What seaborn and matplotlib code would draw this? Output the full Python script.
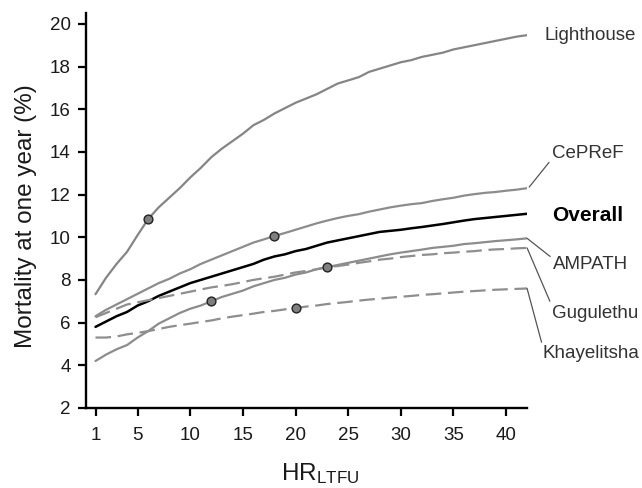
import numpy as np
import pandas as pd
import matplotlib
matplotlib.use("Agg")
import matplotlib.pyplot as plt
import seaborn as sns

# HR_LTFU values 1..42
hr = list(range(1, 43))

lighthouse = [7.33, 8.1, 8.75, 9.32, 10.1, 10.85, 11.4, 11.85, 12.3, 12.8, 13.25, 13.75,
              14.15, 14.5, 14.85, 15.25, 15.5, 15.8, 16.05, 16.3, 16.5, 16.7, 16.95, 17.2,
              17.35, 17.5, 17.75, 17.9, 18.05, 18.2, 18.3, 18.45, 18.55, 18.65, 18.8, 18.9,
              19.0, 19.1, 19.2, 19.3, 19.4, 19.47]
cepref = [6.3, 6.6, 6.85, 7.1, 7.35, 7.6, 7.85, 8.05, 8.3, 8.5, 8.75, 8.95,
          9.15, 9.35, 9.55, 9.75, 9.9, 10.06, 10.2, 10.35, 10.5, 10.65, 10.78, 10.9,
          11.0, 11.08, 11.2, 11.3, 11.4, 11.48, 11.55, 11.6, 11.7, 11.78, 11.85, 11.95,
          12.02, 12.08, 12.12, 12.18, 12.23, 12.3]
overall = [5.8, 6.05, 6.3, 6.5, 6.8, 7.0, 7.25, 7.45, 7.65, 7.85, 8.0, 8.15,
           8.3, 8.45, 8.6, 8.75, 8.95, 9.1, 9.2, 9.35, 9.45, 9.6, 9.75, 9.85,
           9.95, 10.05, 10.15, 10.25, 10.3, 10.35, 10.42, 10.48, 10.55, 10.62, 10.7, 10.78,
           10.85, 10.9, 10.95, 11.0, 11.05, 11.1]
ampath = [4.2, 4.5, 4.75, 4.95, 5.3, 5.6, 5.95, 6.2, 6.45, 6.65, 6.8, 7.0,
          7.2, 7.35, 7.5, 7.7, 7.85, 8.0, 8.1, 8.25, 8.35, 8.5, 8.6, 8.7,
          8.8, 8.9, 9.0, 9.1, 9.2, 9.28, 9.35, 9.42, 9.5, 9.55, 9.6, 9.68,
          9.72, 9.77, 9.82, 9.86, 9.9, 9.95]
gugulethu = [6.25, 6.45, 6.65, 6.85, 6.95, 7.05, 7.15, 7.25, 7.35, 7.45, 7.55, 7.65,
             7.72, 7.8, 7.9, 8.0, 8.08, 8.15, 8.25, 8.35, 8.42, 8.5, 8.6, 8.65,
             8.72, 8.8, 8.87, 8.95, 9.0, 9.07, 9.12, 9.17, 9.2, 9.25, 9.28, 9.32,
             9.35, 9.4, 9.43, 9.45, 9.48, 9.5]
khayelitsha = [5.3, 5.3, 5.35, 5.45, 5.52, 5.6, 5.7, 5.8, 5.88, 5.95, 6.03, 6.1,
               6.2, 6.28, 6.35, 6.42, 6.5, 6.55, 6.62, 6.68, 6.75, 6.8, 6.87, 6.92,
               6.97, 7.03, 7.08, 7.12, 7.17, 7.21, 7.25, 7.3, 7.33, 7.37, 7.41, 7.45,
               7.48, 7.51, 7.54, 7.56, 7.58, 7.6]

# HR at which each site's observed value is marked
marker_hr = {"Lighthouse": 6, "CePReF": 18, "AMPATH": 12, "Gugulethu": 23, "Khayelitsha": 20}

series = {"Lighthouse": lighthouse, "CePReF": cepref, "Overall": overall,
          "AMPATH": ampath, "Gugulethu": gugulethu, "Khayelitsha": khayelitsha}

styles = {"Lighthouse": ("#858585", "-", 1.6),
          "CePReF": ("#8c8c8c", "-", 1.6),
          "Overall": ("#000000", "-", 1.8),
          "AMPATH": ("#8c8c8c", "-", 1.6),
          "Gugulethu": ("#8e8e8e", (0, (7, 3)), 1.6),
          "Khayelitsha": ("#8e8e8e", (0, (7, 3)), 1.6)}

sns.set_style("ticks")
plt.rcParams['font.family'] = ['Liberation Sans', 'DejaVu Sans']
plt.rcParams['mathtext.default'] = 'regular'

fig = plt.figure(figsize=(6.42, 4.88), dpi=100)
ax = fig.add_axes([0.134, 0.164, 0.687, 0.809])

for name, vals in series.items():
    col, ls, lw = styles[name]
    sns.lineplot(x=hr, y=vals, ax=ax, color=col, linestyle=ls, linewidth=lw)

mk = pd.DataFrame({"hr": list(marker_hr.values()),
                   "val": [series[n][hr.index(h)] for n, h in marker_hr.items()]})
sns.scatterplot(data=mk, x="hr", y="val", ax=ax, color="#7f7f7f", edgecolor="#222222",
                linewidth=1.0, s=40, zorder=5)

ax.set_xlim(0.1, 42)
ax.set_ylim(2, 20.5)
ax.set_xticks([1, 5, 10, 15, 20, 25, 30, 35, 40])
ax.set_yticks(range(2, 21, 2))
ax.tick_params(labelsize=13.5, width=1.6, length=6, color="black", labelcolor="#1a1a1a")
ax.tick_params(axis="x", pad=8)
ax.tick_params(axis="y", pad=5)
for s in ["left", "bottom"]:
    ax.spines[s].set_linewidth(1.7)
    ax.spines[s].set_color("black")
sns.despine(ax=ax)

ax.set_ylabel("Mortality at one year (%)", fontsize=17.5, labelpad=9, color="#1a1a1a")
ax.set_xlabel("HR$_{LTFU}$", fontsize=17.5, labelpad=12, color="#1a1a1a")
ax.yaxis.label.set_y(0.485)
ax.xaxis.label.set_x(0.53)

# site labels with leader lines
lead = dict(arrowstyle="-", color="#555555", lw=0.9, shrinkA=0, shrinkB=0)
lab = dict(fontsize=13.5, va="center", ha="left", color="#333333", annotation_clip=False)
ax.annotate("Lighthouse", xy=(42, lighthouse[-1]), xytext=(43.7, 19.47), **lab)
ax.annotate("CePReF", xy=(42.2, cepref[-1] + 0.05), xytext=(44.4, 13.94),
            arrowprops=dict(lead, relpos=(0, 0.2)), **lab)
ax.annotate("Overall", xy=(42, overall[-1]), xytext=(44.4, 11.0),
            fontsize=15, fontweight="bold", va="center", ha="left", color="black",
            annotation_clip=False)
ax.annotate("AMPATH", xy=(42, ampath[-1]), xytext=(44.5, 8.7),
            arrowprops=dict(lead, relpos=(0, 0.85)), **lab)
ax.annotate("Gugulethu", xy=(42, gugulethu[-1]), xytext=(44.4, 6.45),
            arrowprops=dict(lead, relpos=(0, 0.85)), **lab)
ax.annotate("Khayelitsha", xy=(42, khayelitsha[-1]), xytext=(43.5, 4.53),
            arrowprops=dict(lead, relpos=(0, 0.9)), **lab)

fig.savefig("out.png", dpi=100)
